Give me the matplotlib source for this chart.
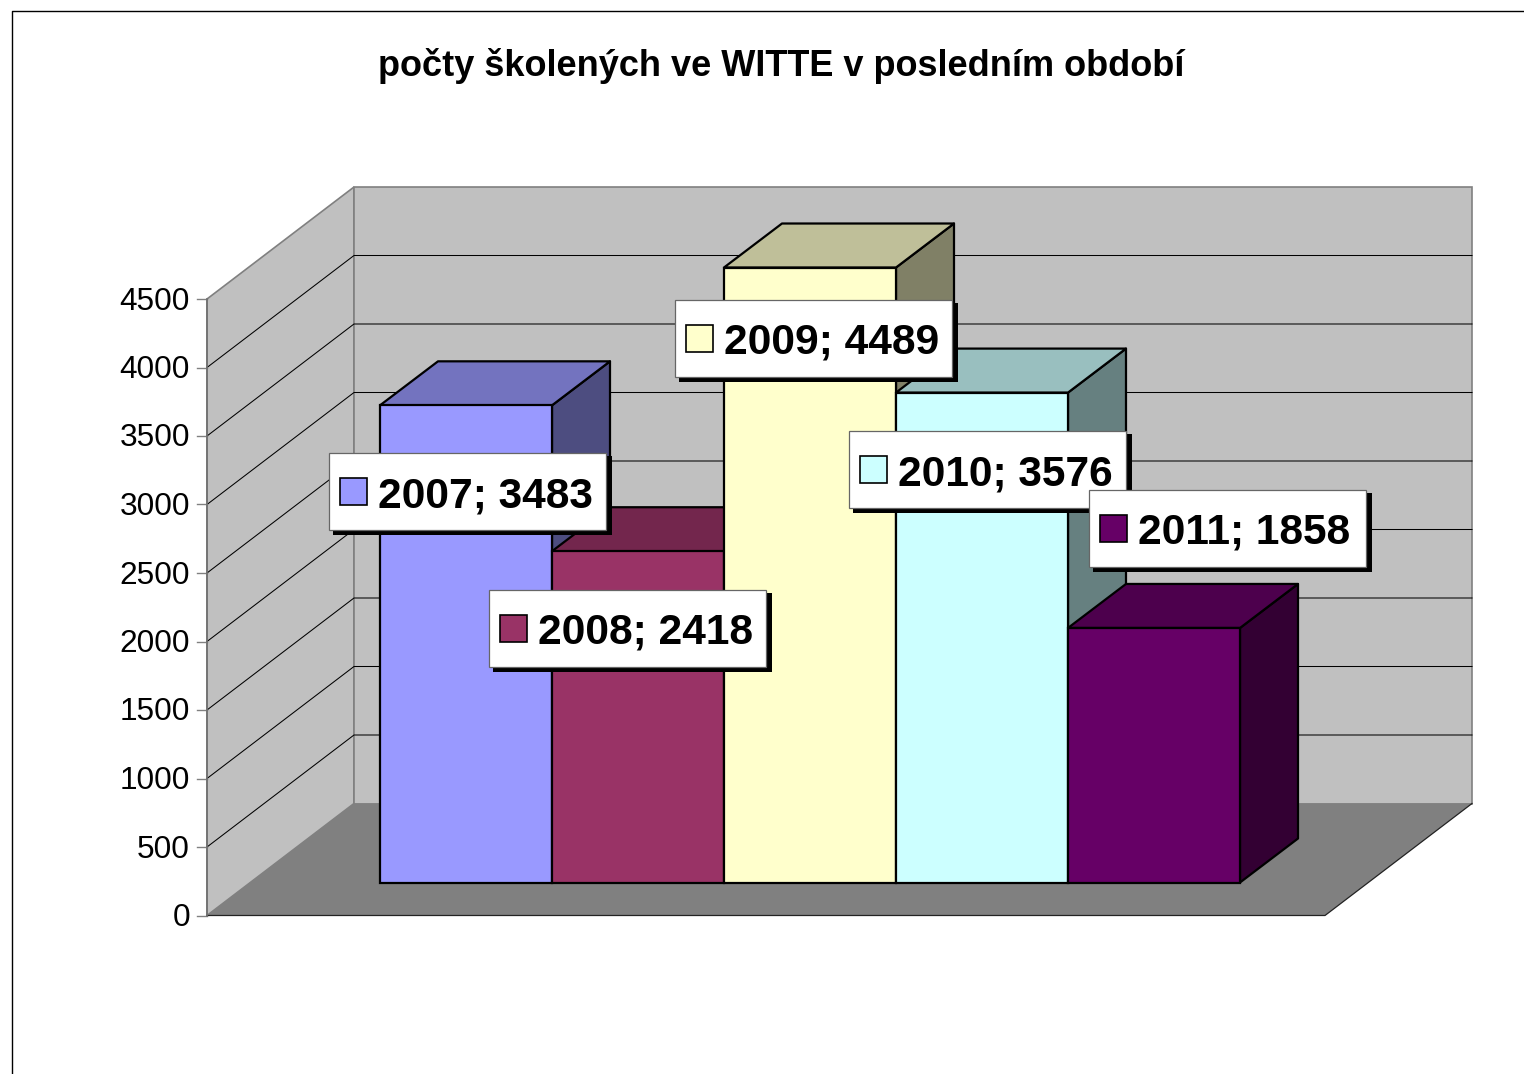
import matplotlib
matplotlib.use('Agg')
import matplotlib.pyplot as plt
from matplotlib.patches import Polygon, Rectangle
from matplotlib.colors import to_rgb

plt.rcParams['font.family'] = ['Liberation Sans', 'DejaVu Sans']

# data
years = [2007, 2008, 2009, 2010, 2011]
counts = [3483, 2418, 4489, 3576, 1858]
y_ticks = [0, 500, 1000, 1500, 2000, 2500, 3000, 3500, 4000, 4500]
bar_colors = ['#9999FF', '#993366', '#FFFFCC', '#CCFFFF', '#660066']
title = 'počty školených ve WITTE v posledním období'

# layout of the fake 3d box, in pixels
wall_x0, wall_x1, floor_y = 207, 1325, 915.5
depth_x, depth_y = 147, -112
px_per_unit = (915.5 - 299) / 4500
bar_x0, bar_w = 380, 172
bar_base = 882.5
bar_dx, bar_dy = 58, -44
label_boxes = [(329, 453), (489, 590), (675, 300), (849, 431), (1089, 490)]


def val_y(v, base=floor_y):
    return base - v * px_per_unit


def shade(color, k):
    return tuple(c * k for c in to_rgb(color))


fig = plt.figure(figsize=(15.24, 10.74), dpi=100)
ax = fig.add_axes([0, 0, 1, 1])
ax.set_xlim(0, 1524)
ax.set_ylim(1074, 0)
ax.axis('off')

# outer frame, cut off on the right and bottom
ax.plot([12, 12, 1524], [1074, 10.5, 10.5], color='black', lw=1.0, zorder=1)

ax.text(781, 76, title, ha='center', va='baseline', fontsize=26.05, fontweight='bold')

# walls and floor
top = val_y(y_ticks[-1])
ax.add_patch(Polygon([(wall_x0, floor_y), (wall_x0 + depth_x, floor_y + depth_y),
                      (wall_x0 + depth_x, top + depth_y), (wall_x0, top)],
                     fc='#C0C0C0', ec='#808080', lw=1.2, zorder=2))
ax.add_patch(Polygon([(wall_x0 + depth_x, floor_y + depth_y), (wall_x1 + depth_x, floor_y + depth_y),
                      (wall_x1 + depth_x, top + depth_y), (wall_x0 + depth_x, top + depth_y)],
                     fc='#C0C0C0', ec='#808080', lw=1.2, zorder=2))
ax.add_patch(Polygon([(wall_x0, floor_y), (wall_x1, floor_y),
                      (wall_x1 + depth_x, floor_y + depth_y), (wall_x0 + depth_x, floor_y + depth_y)],
                     fc='#808080', ec='none', zorder=3))
ax.plot([wall_x0, wall_x1, wall_x1 + depth_x], [floor_y, floor_y, floor_y + depth_y],
        color='#222222', lw=0.9, zorder=3)

# gridlines, ticks, tick labels
for t in y_ticks:
    y = val_y(t)
    if 0 < t < y_ticks[-1]:
        ax.plot([wall_x0, wall_x0 + depth_x, wall_x1 + depth_x], [y, y + depth_y, y + depth_y],
                color='black', lw=0.75, zorder=3)
    ax.plot([wall_x0 - 10, wall_x0], [y, y], color='#808080', lw=1.0, zorder=3)
    ax.text(190, y - 1, str(t), ha='right', va='center_baseline', fontsize=22.8)
ax.plot([wall_x0, wall_x0], [floor_y, top], color='#707070', lw=1.2, zorder=3)

# bars, left to right so that each covers the side of the previous one
for i, (v, c) in enumerate(zip(counts, bar_colors)):
    x0 = bar_x0 + i * bar_w
    x1 = x0 + bar_w
    yt = val_y(v, bar_base)
    z = 4 + i
    ax.add_patch(Polygon([(x1, bar_base), (x1 + bar_dx, bar_base + bar_dy),
                          (x1 + bar_dx, yt + bar_dy), (x1, yt)],
                         fc=shade(c, 0.5), ec='black', lw=1.6, joinstyle='round', zorder=z))
    ax.add_patch(Polygon([(x0, yt), (x1, yt), (x1 + bar_dx, yt + bar_dy), (x0 + bar_dx, yt + bar_dy)],
                         fc=shade(c, 0.75), ec='black', lw=1.6, joinstyle='round', zorder=z))
    ax.add_patch(Rectangle((x0, yt), bar_w, bar_base - yt, fc=c, ec='black', lw=1.6, zorder=z))

# data labels with legend key and hard shadow
for i, (yr, v, c, (bx, by)) in enumerate(zip(years, counts, bar_colors, label_boxes)):
    z = 20 + i
    ax.add_patch(Rectangle((bx + 4, by + 3), 279, 79, fc='black', ec='none', zorder=z))
    ax.add_patch(Rectangle((bx, by), 277, 77, fc='white', ec='#666666', lw=0.9, zorder=z))
    ax.add_patch(Rectangle((bx + 11, by + 25), 27, 27, fc=c, ec='black', lw=1.2, zorder=z))
    ax.text(bx + 49, by + 54, f'{yr}; {v}', ha='left', va='baseline',
            fontsize=30.6, fontweight='bold', zorder=z)

fig.savefig('out.png', dpi=100)
